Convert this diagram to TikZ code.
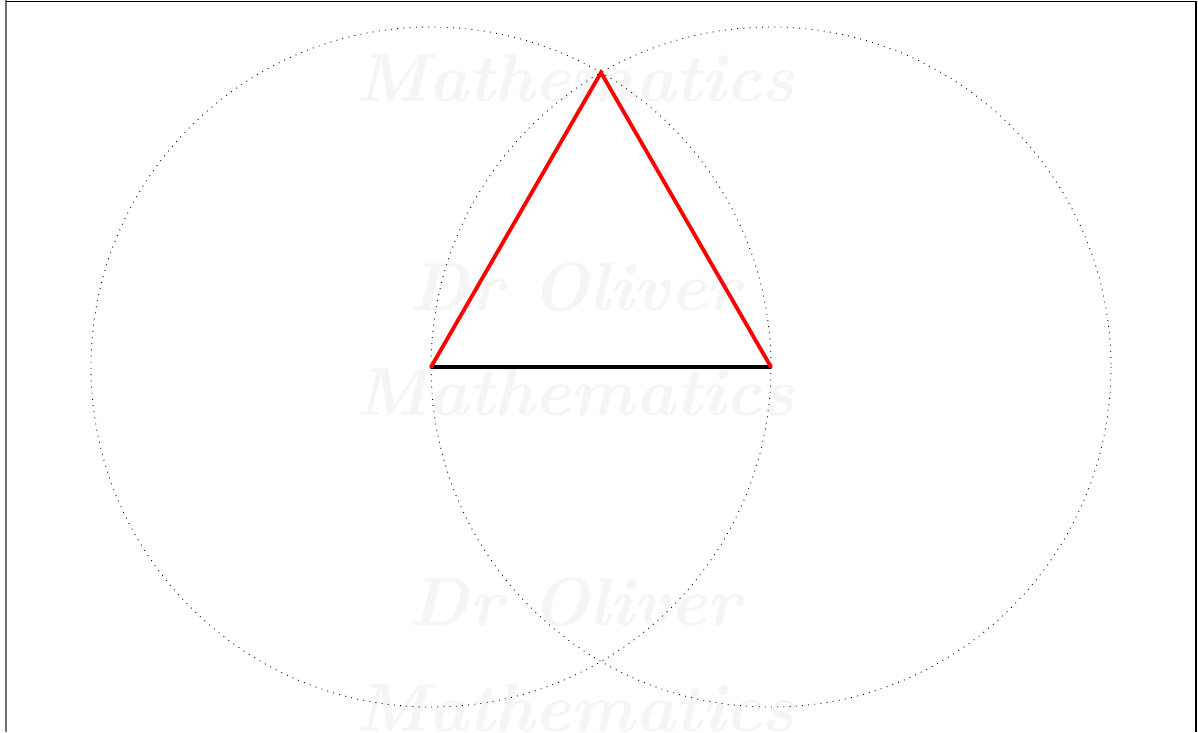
\documentclass[tikz,border=0pt]{standalone}
\begin{document}
\begin{tikzpicture}[x=1pt,y=-1pt,
  wm/.style={text=black!4, font=\fontsize{68}{68}\selectfont\bfseries\itshape, inner sep=0pt},
  guide/.style={black, line width=0.9pt, dash pattern=on 0.9pt off 5.3pt},
  side/.style={red, line width=3.8pt, line cap=round},
  base/.style={black, line width=3.2pt}]
\useasboundingbox (0,0) rectangle (1198,732);
\fill[white] (0,0) rectangle (1198,732);
% frame
\draw[black!55, line width=2pt] (6,0) -- (6,732);
\draw[black, line width=1.2pt] (6,1.5) -- (1196,1.5) -- (1196,732);
% watermark
\node[wm] (w1) at (575,78) {Mathematics};
\node[wm] (w2) at (575,287) {Dr Oliver};
\node[wm] (w3) at (575,392) {Mathematics};
\node[wm] (w4) at (575,602) {Dr Oliver};
\node[wm] (w5) at (575,708) {Mathematics};
% construction
\coordinate (A) at (431,367);
\coordinate (B) at (771,367);
\coordinate (C) at (601,72.6);
\draw[guide] (A) circle (340);
\draw[guide] (B) circle (340);
\draw[base] (A) -- (B);
\draw[side] (A) -- (C) -- (B);
\end{tikzpicture}
\end{document}
